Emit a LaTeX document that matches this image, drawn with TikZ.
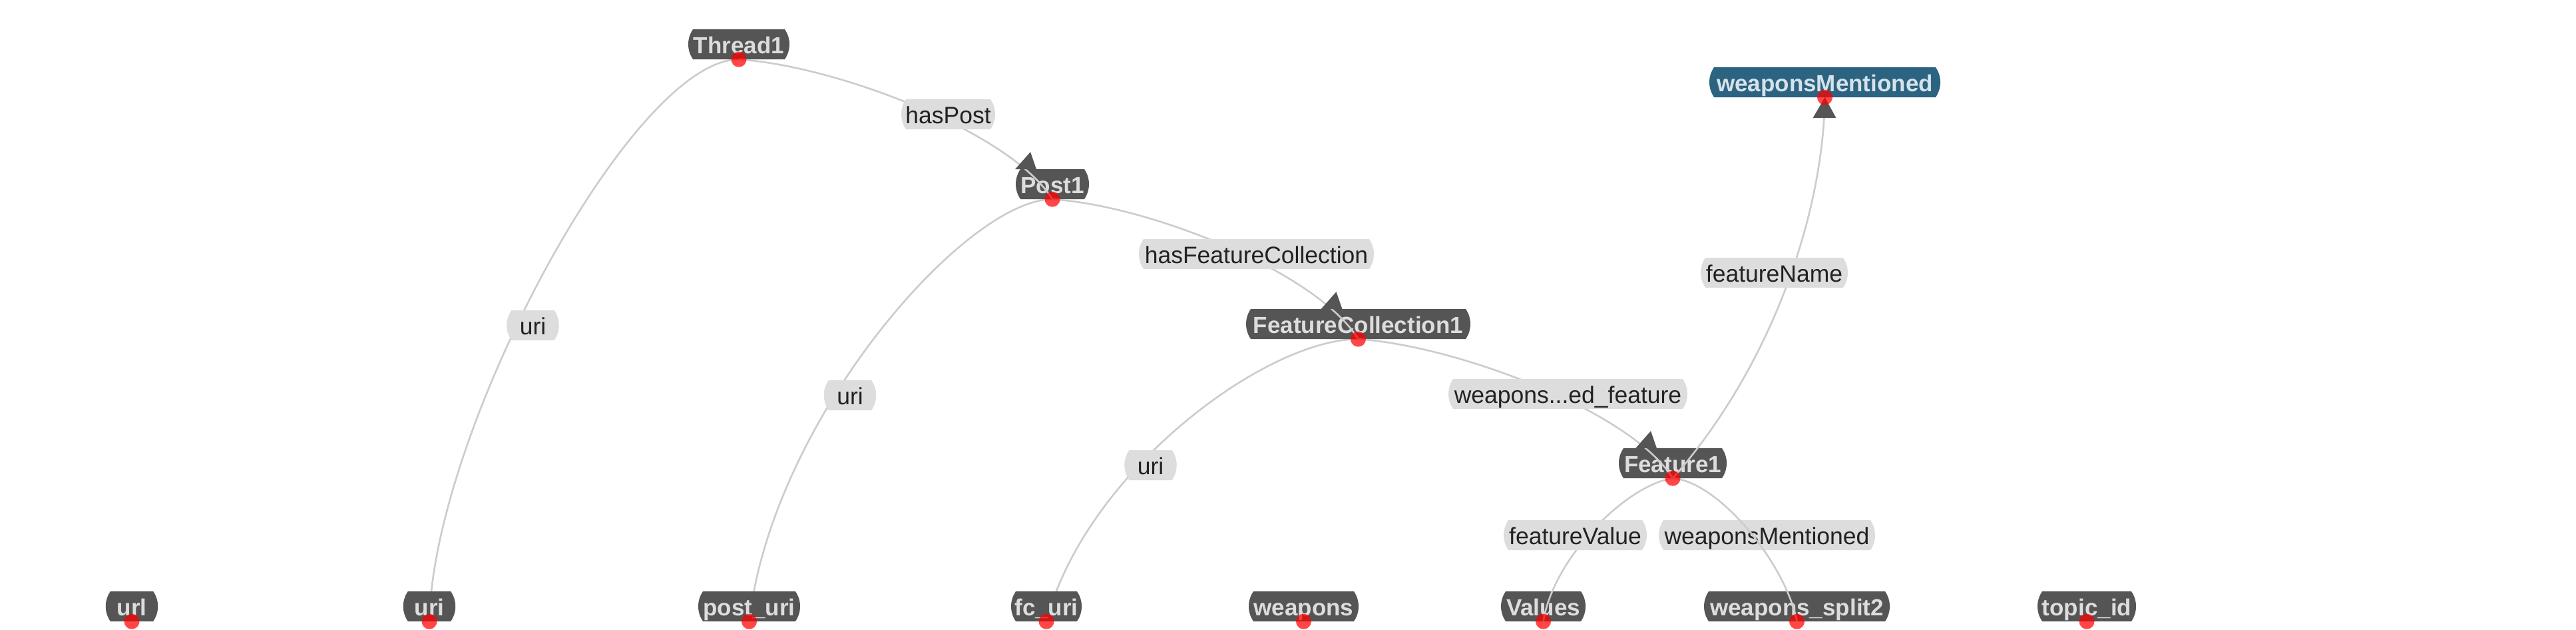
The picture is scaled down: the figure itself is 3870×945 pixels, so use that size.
\documentclass[tikz,border=0pt]{standalone}
\usepackage{fontspec}
\setmainfont{Liberation Sans}
\usetikzlibrary{shapes.misc,calc}
\pgfdeclarelayer{bg}
\pgfdeclarelayer{under}
\pgfsetlayers{bg,under,main}
\definecolor{nodegray}{HTML}{555555}
\definecolor{textlight}{HTML}{DDDDDD}
\definecolor{lblfill}{HTML}{DDDDDD}
\definecolor{lbltext}{HTML}{222222}
\definecolor{edgegray}{HTML}{CCCCCC}
\definecolor{wmblue}{HTML}{2C6380}
\definecolor{wmtext}{HTML}{D6E2EA}
\tikzset{
  cls/.style={rounded rectangle, rounded rectangle arc length=70, fill=nodegray,
    text=textlight, font=\fontsize{35}{40}\selectfont\bfseries,
    minimum height=45pt, inner xsep=1pt, inner ysep=0pt,
    text height=30pt, text depth=3pt},
  clsblue/.style={cls, fill=wmblue, text=wmtext},
  lbl/.style={rounded rectangle, rounded rectangle arc length=70, fill=lblfill,
    text=lbltext, font=\fontsize{35.5}{40}\selectfont,
    minimum height=45pt, inner xsep=1pt, inner ysep=0pt,
    text height=30pt, text depth=3pt},
  link/.style={draw=edgegray, line width=2.6pt},
  tiphead/.style={fill=nodegray},
  reddot/.style={fill=red, fill opacity=0.72}
}
\newcommand{\tipat}[1]{\fill[tiphead] ($(#1.south)+(-56,-45)$) -- ($(#1.south)+(-33,-71)$) -- ($(#1.south)+(-24,-45)$) -- cycle;}
\begin{document}
\begin{tikzpicture}[x=1pt,y=-1pt]
\useasboundingbox (0,0) rectangle (3870,945);
\begin{pgfonlayer}{bg}
\fill[white] (0,0) rectangle (3870,945);
\end{pgfonlayer}

% class nodes
\node[cls, minimum width=154pt] (Thread1) at (1110,66.5) {Thread1};
\node[cls, minimum width=112pt] (Post1) at (1581,276.5) {Post1};
\node[cls, minimum width=339pt] (FC1) at (2040.5,486.5) {FeatureCollection1};
\node[cls, minimum width=164pt] (Feature1) at (2513,695.5) {Feature1};
\node[clsblue, minimum width=349pt] (wm) at (2741.5,123.5) {weaponsMentioned};
\node[cls, minimum width=62pt] (url) at (198,910.5) {url};
\node[cls, minimum width=62pt] (uriB) at (645,910.5) {uri};
\node[cls, minimum width=155pt] (posturi) at (1125.5,910.5) {post\_uri};
\node[cls, minimum width=108pt] (fcuri) at (1572,910.5) {fc\_uri};
\node[cls, minimum width=167pt] (weapons) at (1958.5,910.5) {weapons};
\node[cls, minimum width=129pt] (Values) at (2318.5,910.5) {Values};
\node[cls, minimum width=281pt] (wsplit) at (2699.5,910.5) {weapons\_split2};
\node[cls, minimum width=150pt] (topic) at (3135,910.5) {topic\_id};

% uri links (under the boxes)
\begin{pgfonlayer}{under}
\draw[link] (Thread1.south) .. controls ($(Thread1.south)+(-161,0)$) and ($(uriB.south)+(5,-283)$) .. (uriB.south);
\draw[link] (Post1.south) .. controls ($(Post1.south)+(-130,0)$) and ($(posturi.south)+(35,-304)$) .. (posturi.south);
\draw[link] (FC1.south) .. controls ($(FC1.south)+(-140,0)$) and ($(fcuri.south)+(59,-224)$) .. (fcuri.south);
\end{pgfonlayer}

% other links
\draw[link] (Thread1.south) .. controls ($(Thread1.south)+(150,10)$) and ($(Post1.south)+(-61,-99)$) .. (Post1.south);
\draw[link] (Post1.south) .. controls ($(Post1.south)+(150,10)$) and ($(FC1.south)+(-61,-99)$) .. (FC1.south);
\draw[link] (FC1.south) .. controls ($(FC1.south)+(150,10)$) and ($(Feature1.south)+(-61,-99)$) .. (Feature1.south);
\draw[link] (Feature1.south) .. controls ($(Feature1.south)+(150,-170)$) and ($(wm.south)+(-2,172)$) .. (wm.south);
\draw[link] (Feature1.south) .. controls ($(Feature1.south)+(-70,10)$) and ($(Values.south)+(15,-95)$) .. (Values.south);

% edge labels
\node[lbl, minimum width=143pt] (lhasPost) at (1424.5,171.5) {hasPost};
\node[lbl, minimum width=355pt] (lhasFC) at (1887.5,381.5) {hasFeatureCollection};
\node[lbl, minimum width=361pt] (lwef) at (2355.5,591.5) {weapons...ed\_feature};
\node[lbl, minimum width=223pt] (lfname) at (2665.5,409.5) {featureName};
\node[lbl, minimum width=217pt] (lfvalue) at (2366.5,803.5) {featureValue};
\node[lbl, minimum width=327pt] (lwm) at (2654.5,803.5) {weaponsMentioned};
\node[lbl, minimum width=55pt] (luri1) at (800.5,488.5) {uri};
\node[lbl, minimum width=54pt] (luri2) at (1277,593.5) {uri};
\node[lbl, minimum width=55pt] (luri3) at (1728.5,698.5) {uri};

% link drawn over its label
\draw[link] (Feature1.south) .. controls ($(Feature1.south)+(70,5)$) and ($(wsplit.south)+(-16,-85)$) .. (wsplit.south);

% arrow heads
\tipat{Post1}
\tipat{FC1}
\tipat{Feature1}
\fill[tiphead] ($(wm.south)+(-18,31)$) -- (wm.south) -- ($(wm.south)+(17,31)$) -- cycle;

% red dots
\foreach \n in {Thread1,Post1,FC1,Feature1,wm,url,uriB,posturi,fcuri,weapons,Values,wsplit,topic}
  \fill[reddot] (\n.south) circle[radius=11.5];
\end{tikzpicture}
\end{document}
